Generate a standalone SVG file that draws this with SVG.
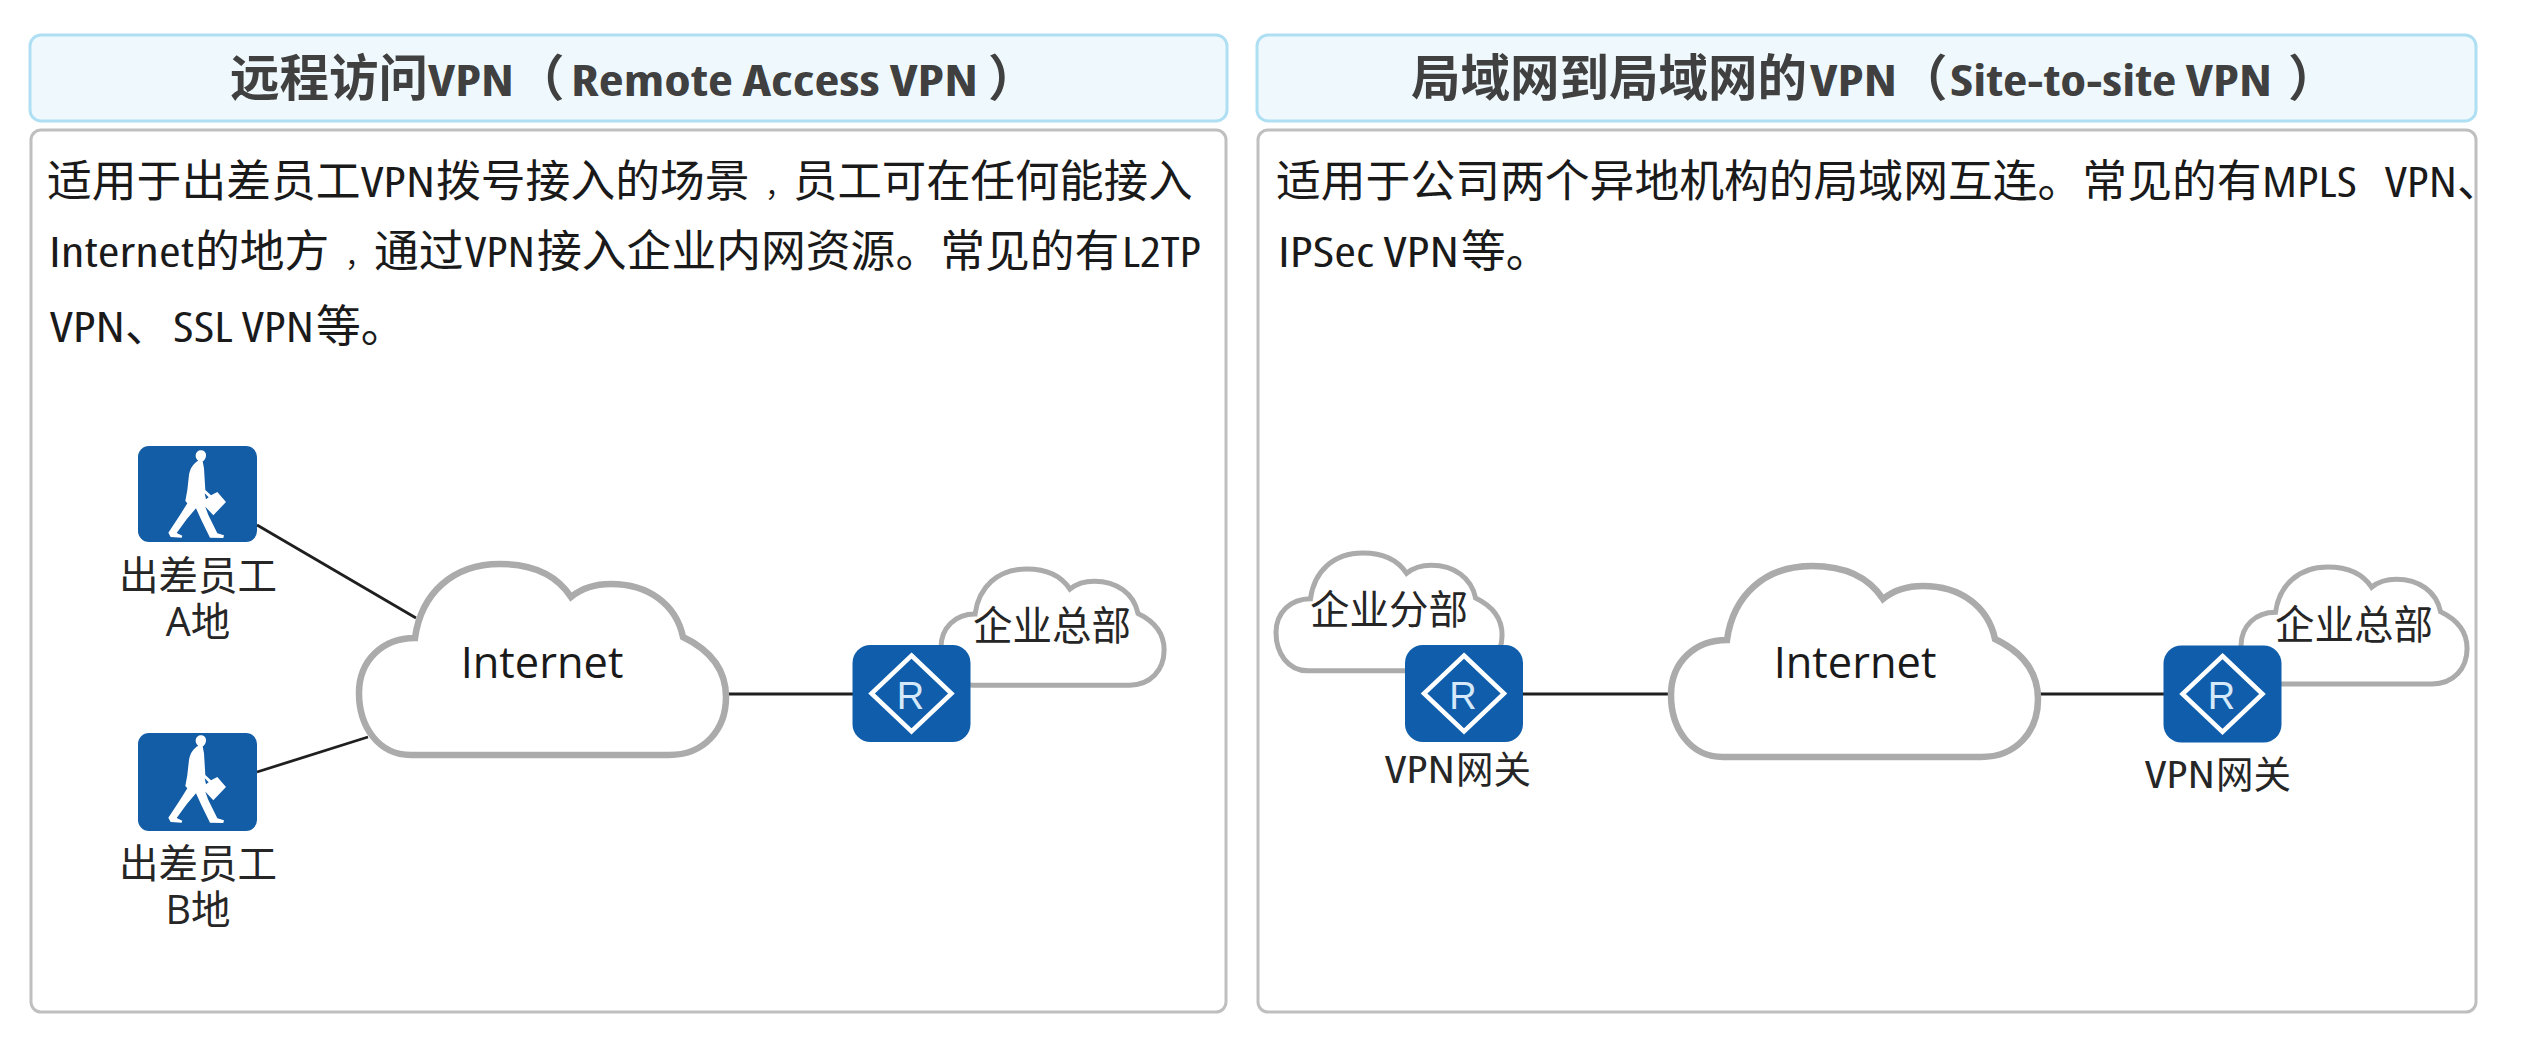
<svg xmlns="http://www.w3.org/2000/svg" width="2524" height="1049" viewBox="0 0 2524 1049">
<style>
text{font-family:"Open Sans","Noto Sans CJK SC",sans-serif;fill:#1a1a1a}
.cjk{font-family:"Noto Sans CJK SC","Open Sans",sans-serif}
.title{fill:#eff9fd;stroke:#aedff2;stroke-width:3}
.body{fill:#fff;stroke:#bfbfbf;stroke-width:3}
.tt{font-size:49.5px;font-weight:700;fill:#404040}
.tl{font-size:42px;font-stretch:87%}
.bd{font-size:44.800px}
.bl{font-size:42px;font-stretch:condensed}
.cm{font-size:28px}
.lab{font-size:39.500px;text-anchor:middle;fill:#262626}
.ll{font-size:39px;fill:#262626;font-stretch:condensed}
.net{font-size:43.400px;fill:#1a1a1a}
.cloud{fill:#fff;stroke:#ababab;vector-effect:non-scaling-stroke}
.big{stroke-width:6.500px}
.small{stroke-width:5px}
.link{stroke:#1f1f1f;stroke-width:2.8;fill:none}
.tile{fill:#0f5dab}
.ptile{fill:#135ca6}
.dia{fill:none;stroke:#fff;stroke-width:4.5}
.r{font-family:"Liberation Sans",sans-serif;font-size:38px;text-anchor:middle;fill:#d5e9fa}
</style>
<defs>
<path id="cloud" class="cloud" d="M52 191C19 191 0 162 0 129C0 96 24 74 56 74C62 30 93 0 141 0C172 0 197 10 212 33C223 24 237 20 252 20C289 20 317 40 324 73C351 86 367 106 367 133C367 166 345 191 310 191Z"/>
<g id="person" transform="scale(0.3333)">
<path fill="#fff" d="M197 47C197 37 205 31 213 31C223 31 229 39 228 48C227 57 222 62 218 64L222 85L226 150L243 166L262 156L288 186L250 226L224 198L222 190L235 225L262 280L282 286L280 294L240 293L214 240L198 205L170 238L140 279L157 287L155 293L122 291L115 278L150 225L172 190L166 183L172 150L177 105C180 85 190 70 205 62C200 58 197 53 197 47Z"/>
<path fill="#135ca6" d="M224 160L236 172L228 178Z"/>
</g>
<g id="router">
<rect class="tile" x="-59" y="-48.500" width="118" height="97" rx="18"/>
<path class="dia" d="M0 -38L40 0L0 38L-40 0Z"/>
<text class="r" x="-1" y="15">R</text>
</g>
</defs>

<g id="panel-left">
<rect class="title" x="30" y="35" width="1197" height="86" rx="11"/>
<rect class="body" x="31" y="130" width="1195" height="882" rx="10"/>
<text class="tt" y="96"><tspan class="cjk" x="230">远程访问</tspan><tspan class="tl" x="428" textLength="86" lengthAdjust="spacingAndGlyphs">VPN</tspan><tspan class="cjk" x="515">（</tspan><tspan class="tl" x="571" textLength="407" lengthAdjust="spacingAndGlyphs">Remote Access VPN</tspan><tspan class="cjk" x="988">）</tspan></text>
<text class="bd" y="197"><tspan class="cjk" x="47">适用于出差员工</tspan><tspan class="bl" x="361" textLength="74" lengthAdjust="spacingAndGlyphs">VPN</tspan><tspan class="cjk" x="436">拨号接入的场景</tspan><tspan class="cjk cm" x="765">，</tspan><tspan class="cjk" x="793" style="font-size:44.400px">员工可在任何能接入</tspan></text>
<text class="bd" y="267"><tspan class="bl" x="49" textLength="145" lengthAdjust="spacingAndGlyphs">Internet</tspan><tspan class="cjk" x="195">的地方</tspan><tspan class="cjk cm" x="345">，</tspan><tspan class="cjk" x="374">通过</tspan><tspan class="bl" x="465" textLength="70" lengthAdjust="spacingAndGlyphs">VPN</tspan><tspan class="cjk" x="537">接入企业内网资源。常见的有</tspan><tspan class="bl" x="1122" textLength="79" lengthAdjust="spacingAndGlyphs">L2TP</tspan></text>
<text class="bd" y="342"><tspan class="bl" x="50" textLength="75" lengthAdjust="spacingAndGlyphs">VPN</tspan><tspan class="cjk" x="125">、</tspan><tspan class="bl" x="173" textLength="141" lengthAdjust="spacingAndGlyphs">SSL VPN</tspan><tspan class="cjk" x="316">等。</tspan></text>
</g>

<g id="panel-right">
<rect class="title" x="1257" y="35" width="1219" height="86" rx="11"/>
<rect class="body" x="1258" y="130" width="1218" height="882" rx="10"/>
<text class="tt" y="96"><tspan class="cjk" x="1411">局域网到局域网的</tspan><tspan class="tl" x="1810" textLength="87" lengthAdjust="spacingAndGlyphs">VPN</tspan><tspan class="cjk" x="1898">（</tspan><tspan class="tl" x="1950" textLength="322" lengthAdjust="spacingAndGlyphs">Site-to-site VPN</tspan><tspan class="cjk" x="2288">）</tspan></text>
<text class="bd" y="197"><tspan class="cjk" x="1276">适用于公司两个异地机构的局域网互连。常见的有</tspan><tspan class="bl" x="2262" textLength="95" lengthAdjust="spacingAndGlyphs">MPLS</tspan><tspan class="bl" x="2385" textLength="72" lengthAdjust="spacingAndGlyphs">VPN</tspan><tspan class="cjk" x="2457">、</tspan></text>
<text class="bd" y="267"><tspan class="bl" x="1278" textLength="181" lengthAdjust="spacingAndGlyphs">IPSec VPN</tspan><tspan class="cjk" x="1461">等。</tspan></text>
</g>

<g id="connectors">
<line class="link" x1="257" y1="525" x2="416" y2="618"/>
<line class="link" x1="257" y1="772" x2="368" y2="737"/>
<line class="link" x1="726" y1="694" x2="853" y2="694"/>
<line class="link" x1="1522" y1="694" x2="1670" y2="694"/>
<line class="link" x1="2040" y1="694" x2="2164" y2="694"/>
</g>

<g id="user-a">
<rect class="ptile" x="138" y="446" width="119" height="96" rx="11"/>
<use href="#person" x="130" y="440"/>
<text class="lab"><tspan class="cjk" x="198" y="590">出差员工</tspan><tspan x="198" y="636">A地</tspan></text>
</g>
<g id="user-b">
<rect class="ptile" x="138" y="733" width="119" height="98" rx="11"/>
<use href="#person" x="130" y="725"/>
<text class="lab"><tspan class="cjk" x="198" y="878">出差员工</tspan><tspan x="198" y="924">B地</tspan></text>
</g>
<g id="internet-left">
<use class="big" href="#cloud" transform="translate(359 564)"/>
<text class="net" x="542" y="678" text-anchor="middle">Internet</text>
</g>
<g id="hq-left">
<use class="small" href="#cloud" transform="translate(941 569) scale(0.608)"/>
<text class="lab cjk" x="1052" y="640">企业总部</text>
</g>
<g id="router-left"><use href="#router" transform="translate(911.500 693.500)"/></g>

<g id="branch">
<use class="small" href="#cloud" transform="translate(1276 553) scale(0.616 0.617)"/>
<text class="lab cjk" x="1389" y="624">企业分部</text>
</g>
<g id="router-branch"><use href="#router" transform="translate(1464 693.500)"/>
<text class="ll" y="783"><tspan x="1385" textLength="70" lengthAdjust="spacingAndGlyphs">VPN</tspan><tspan class="cjk" x="1456" style="font-size:37.500px">网关</tspan></text></g>
<g id="internet-right">
<use class="big" href="#cloud" transform="translate(1671 566)"/>
<text class="net" x="1855" y="678" text-anchor="middle">Internet</text>
</g>
<g id="hq-right">
<use class="small" href="#cloud" transform="translate(2241 567) scale(0.616 0.612)"/>
<text class="lab cjk" x="2354" y="639">企业总部</text>
</g>
<g id="router-right"><use href="#router" transform="translate(2222.500 694)"/>
<text class="ll" y="788"><tspan x="2145" textLength="70" lengthAdjust="spacingAndGlyphs">VPN</tspan><tspan class="cjk" x="2216" style="font-size:37.500px">网关</tspan></text></g>
</svg>
